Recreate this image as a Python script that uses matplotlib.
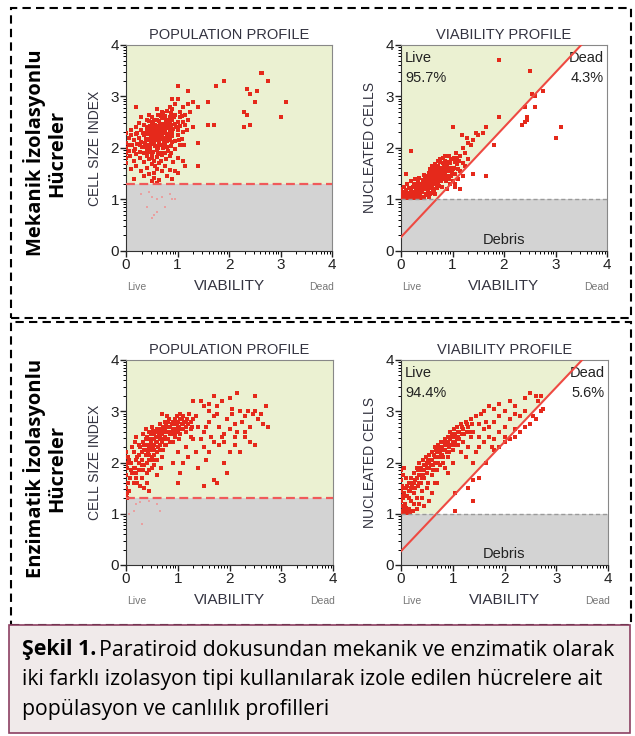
import numpy as np
import matplotlib.pyplot as plt
from matplotlib.patches import Rectangle, Polygon

plt.rcParams['font.family'] = ['Liberation Sans', 'DejaVu Sans']

# ---- veriler (grafikten okunan noktalar) ----
mek_pop_pts = [
    (0.85,2.8),(0.9,2.75),(0.95,2.85),(1.05,2.7),(0.8,2.72),(1.1,2.8),(0.7,2.7),(1.2,2.85),(1.15,2.65),(0.6,2.75),(1.0,2.95),(0.9,2.95),
    (0.5,2.6),(0.55,2.55),(0.62,2.65),(0.7,2.58),(0.75,2.62),(0.8,2.5),(0.85,2.6),(0.9,2.55),(0.95,2.65),(1.0,2.5),(1.05,2.6),(1.1,2.5),
    (0.4,2.55),(0.65,2.52),(0.72,2.68),(0.88,2.68),(1.2,2.55),(1.25,2.7),(0.3,2.6),(0.45,2.65),
    (0.2,2.4),(0.3,2.35),(0.35,2.45),(0.4,2.4),(0.45,2.35),(0.5,2.45),(0.55,2.38),(0.58,2.32),(0.6,2.42),(0.63,2.36),(0.66,2.47),(0.7,2.35),
    (0.72,2.42),(0.75,2.3),(0.78,2.45),(0.8,2.38),(0.85,2.32),(0.88,2.44),(0.92,2.36),(0.96,2.46),(1.0,2.35),(1.05,2.42),(1.1,2.32),(0.1,2.35),
    (0.25,2.48),(0.52,2.31),(0.68,2.31),(0.82,2.48),(1.15,2.45),(1.3,2.4),
    (0.05,2.2),(0.1,2.25),(0.15,2.15),(0.2,2.28),(0.25,2.2),(0.3,2.12),(0.35,2.25),(0.38,2.18),(0.42,2.28),(0.45,2.15),(0.48,2.22),(0.5,2.29),
    (0.53,2.12),(0.55,2.2),(0.58,2.26),(0.6,2.15),(0.62,2.22),(0.65,2.29),(0.68,2.18),(0.7,2.24),(0.74,2.12),(0.77,2.2),(0.8,2.27),(0.85,2.16),
    (0.9,2.23),(0.95,2.14),(1.0,2.25),(1.08,2.18),(0.33,2.29),(0.57,2.17),
    (0.0,2.0),(0.05,1.95),(0.12,2.05),(0.18,1.98),(0.22,2.08),(0.28,1.92),(0.32,2.02),(0.36,2.1),(0.4,1.95),(0.44,2.05),(0.47,2.0),(0.5,2.08),
    (0.52,1.93),(0.56,2.03),(0.6,1.97),(0.64,2.06),(0.68,1.91),(0.72,2.0),(0.76,2.08),(0.82,1.95),(0.88,2.04),(0.95,1.98),(1.05,2.05),(0.42,1.92),(0.48,2.09),
    (0.0,1.8),(0.08,1.85),(0.15,1.75),(0.2,1.88),(0.28,1.8),(0.35,1.72),(0.4,1.85),(0.45,1.78),(0.5,1.88),(0.55,1.75),(0.6,1.82),(0.65,1.7),
    (0.7,1.86),(0.78,1.78),(0.85,1.84),(0.92,1.72),(1.0,1.8),(1.1,1.75),
    (0.1,1.6),(0.2,1.65),(0.3,1.55),(0.4,1.62),(0.5,1.68),(0.55,1.52),(0.6,1.6),(0.7,1.55),(0.75,1.65),(0.85,1.58),(0.95,1.55),(1.0,1.52),(1.15,1.65),(0.45,1.5),
    (0.35,1.45),(0.5,1.35),(0.55,1.42),(0.65,1.38),(0.8,1.45),(0.9,1.4),(0.15,1.4),(0.6,1.32),(0.0,2.1),(0.0,1.9),(0.0,2.3),(0.0,1.7),
    (0.41,2.33),(0.46,2.42),(0.51,2.37),(0.56,2.44),(0.61,2.33),(0.66,2.4),(0.71,2.46),(0.76,2.37),(0.81,2.43),(0.86,2.38),(0.43,2.18),(0.49,2.13),
    (0.54,2.26),(0.59,2.21),(0.64,2.14),(0.69,2.27),(0.73,2.19),(0.79,2.13),(0.84,2.24),(0.89,2.3),(0.44,2.52),(0.53,2.5),(0.6,2.55),(0.68,2.62),
    (0.77,2.55),(0.86,2.52),(0.93,2.6),(0.98,2.4),(0.38,2.02),(0.46,1.97),(0.55,2.09),(0.63,2.0),(0.71,2.06),(0.8,2.02),(0.9,2.12),(0.34,1.9),
    (0.5,1.8),(0.62,1.88),(0.75,1.9),(0.27,2.05),(0.22,2.3),(0.15,1.95),(0.06,2.05),(0.57,1.65),(0.68,1.75),(0.88,1.9),(1.02,2.15),(1.12,2.05),
    (1.18,2.35),(1.08,2.62),
    (0.2,2.8),(1.0,3.2),(1.2,3.1),(1.3,2.9),(1.4,2.8),(1.6,2.9),(1.75,3.2),(1.9,3.3),(1.7,2.45),(1.6,2.45),(2.35,3.15),(2.4,3.05),
    (2.55,3.1),(2.62,3.45),(2.65,3.45),(2.75,3.3),(2.3,2.7),(2.35,2.65),(2.4,2.45),(2.3,2.4),(2.5,2.9),(3.0,2.6),(3.1,2.9),(1.4,2.1),(1.4,1.65),
]
mek_pop_debris = [(0.3,1.1),(0.45,1.15),(0.5,1.05),(0.6,1.0),(0.7,1.05),(0.85,1.1),(0.95,1.0),(0.4,0.85),(0.5,0.65),(0.6,0.75),(0.75,0.85),(0.9,1.0),(0.55,0.7)]

mek_via_pts = [
    (0.0,1.02),(0.02,1.08),(0.05,1.05),(0.03,1.15),(0.08,1.1),(0.1,1.02),(0.0,1.2),(0.06,1.25),(0.1,1.18),(0.12,1.3),
    (0.15,1.05),(0.18,1.12),(0.2,1.2),(0.22,1.08),(0.25,1.15),(0.28,1.25),(0.3,1.05),(0.2,1.35),(0.25,1.3),(0.3,1.18),(0.16,1.22),(0.27,1.4),
    (0.32,1.1),(0.35,1.22),(0.38,1.3),(0.4,1.15),(0.42,1.38),(0.45,1.25),(0.48,1.1),(0.5,1.32),(0.35,1.42),(0.4,1.05),(0.44,1.48),(0.47,1.2),(0.33,1.35),(0.49,1.42),
    (0.52,1.15),(0.54,1.28),(0.56,1.4),(0.58,1.22),(0.6,1.5),(0.62,1.35),(0.64,1.18),(0.66,1.45),(0.68,1.3),(0.7,1.58),(0.55,1.52),(0.6,1.25),
    (0.65,1.6),(0.53,1.38),(0.57,1.1),(0.63,1.43),(0.69,1.22),(0.61,1.65),(0.67,1.52),(0.51,1.45),
    (0.72,1.3),(0.74,1.45),(0.76,1.6),(0.78,1.35),(0.8,1.5),(0.82,1.7),(0.84,1.4),(0.86,1.55),(0.88,1.65),(0.9,1.45),(0.75,1.72),(0.79,1.25),
    (0.83,1.58),(0.87,1.35),(0.73,1.52),(0.81,1.8),(0.77,1.42),(0.85,1.75),(0.89,1.58),(0.71,1.65),
    (0.92,1.55),(0.95,1.7),(0.98,1.45),(1.0,1.6),(1.02,1.8),(1.05,1.5),(1.08,1.68),(0.94,1.85),(1.0,1.35),(1.1,1.6),(0.96,1.62),(1.04,1.72),(0.93,1.4),(1.06,1.9),
    (1.12,1.75),(1.15,1.85),(1.2,2.0),(1.25,1.9),(1.3,2.1),(1.35,2.05),(1.2,1.7),(1.28,2.2),(1.4,2.15),(1.45,2.3),(1.15,1.55),(1.5,2.25),(1.6,2.3),
    (1.05,1.3),(1.1,1.4),(1.2,1.45),(1.3,1.78),(1.0,2.4),(1.18,2.25),
    (0.45,1.33),(0.5,1.22),(0.55,1.33),(0.6,1.42),(0.65,1.3),(0.7,1.44),(0.75,1.35),(0.8,1.62),(0.85,1.48),(0.9,1.68),(0.58,1.47),(0.63,1.55),
    (0.68,1.62),(0.73,1.4),(0.78,1.55),(0.83,1.5),(0.88,1.42),(0.93,1.6),(0.97,1.78),(0.52,1.25),(0.62,1.2),(0.72,1.48),(0.82,1.43),(0.92,1.72),
    (0.42,1.2),(0.37,1.15),(0.3,1.3),(0.23,1.25),(0.13,1.12),(0.07,1.02),(0.04,1.12),(0.19,1.05),(0.27,1.1),(0.36,1.28),(0.46,1.4),(0.56,1.6),
    (0.66,1.68),(0.76,1.78),(0.86,1.85),(0.99,1.52),(1.03,1.62),(1.08,1.8),(0.74,1.27),(0.79,1.62),(0.84,1.65),(0.69,1.38),(0.59,1.32),(0.49,1.27),
    (0.39,1.22),(0.71,1.75),
    (0.01,1.05),(0.04,1.02),(0.09,1.06),(0.14,1.03),(0.2,1.04),(0.26,1.02),(0.33,1.04),(0.38,1.03),(0.44,1.05),(0.5,1.08),(0.55,1.04),(0.12,1.08),
    (0.24,1.07),(0.36,1.08),(0.6,1.12),(0.66,1.1),
    (0.9,1.2),(0.95,1.3),(1.05,1.25),(1.15,1.2),(1.4,1.5),(1.65,1.45),(1.25,1.65),(1.8,2.05),(1.9,2.6),(0.2,1.95),(0.1,1.5),
    (1.9,3.7),(2.5,3.5),(2.4,2.8),(2.45,2.55),(2.4,2.5),(2.35,2.45),(2.45,2.6),(2.6,3.0),(2.75,3.1),(2.6,2.8),(3.0,2.2),(3.1,2.4),(2.55,3.05),(1.65,2.4),
]

enz_pop_pts = [
    (0.0,1.35),(0.02,1.4),(0.0,1.5),(0.03,1.6),(0.0,1.75),(0.02,1.9),(0.0,2.0),(0.04,2.1),(0.0,2.2),(0.02,1.3),(0.05,1.45),(0.03,2.0),(0.0,1.95),(0.06,2.05),
    (0.1,2.0),(0.12,1.8),(0.15,2.2),(0.18,1.9),(0.2,2.5),(0.22,2.1),(0.25,1.85),(0.28,2.3),(0.3,1.7),(0.3,2.05),(0.33,2.4),(0.35,1.95),(0.35,2.25),
    (0.38,2.15),(0.4,2.5),(0.4,1.8),(0.42,2.35),(0.45,2.05),(0.45,2.6),(0.48,2.25),(0.5,2.45),(0.5,1.9),(0.52,2.3),(0.55,2.55),(0.55,2.15),(0.58,2.4),
    (0.6,2.65),(0.6,2.2),(0.62,2.5),(0.65,2.35),(0.65,2.75),(0.68,2.55),(0.7,2.4),(0.7,2.1),(0.72,2.62),(0.75,2.5),(0.75,2.8),(0.78,2.35),(0.8,2.6),
    (0.8,2.9),(0.82,2.45),(0.85,2.7),(0.88,2.55),(0.9,2.8),(0.9,2.4),(0.92,2.65),(0.95,2.75),(0.95,2.5),(0.98,2.9),(1.0,2.6),(1.0,2.8),(1.03,2.7),
    (1.05,2.55),(1.05,2.85),(1.08,2.75),(1.1,2.65),(1.1,2.9),(1.12,2.8),(1.15,2.7),(1.18,2.85),(1.2,2.75),(1.22,2.95),(1.25,2.8),(1.28,2.7),(1.3,2.85),
    (1.35,2.9),(0.25,2.35),(0.38,2.65),(0.15,1.6),(0.2,1.7),(0.28,1.55),(0.4,1.6),(0.45,1.45),(0.55,1.95),(0.6,1.75),(0.68,1.9),(0.5,2.7),(0.32,2.55),
    (0.42,2.2),(0.52,2.05),(0.62,2.3),(0.72,2.25),(0.58,2.6),(0.48,2.4),(0.66,2.45),(0.76,2.65),(0.86,2.6),(0.96,2.65),(0.84,2.85),(0.7,2.95),(0.12,2.3),
    (0.08,1.7),(0.22,1.6),(0.35,1.5),(0.18,2.4),(0.26,2.0),(0.44,1.85),(0.54,2.35),(0.64,2.58),(0.74,2.45),(0.94,2.55),(1.02,2.45),
    (0.45,2.3),(0.5,2.35),(0.55,2.45),(0.6,2.4),(0.65,2.5),(0.7,2.55),(0.75,2.6),(0.8,2.7),(0.85,2.55),(0.9,2.65),(0.95,2.6),(1.0,2.7),(1.05,2.65),
    (1.1,2.75),(1.15,2.8),(0.4,2.25),(0.35,2.35),(0.3,2.2),(0.25,2.15),(0.2,2.05),(0.15,1.9),(0.1,1.85),(0.55,2.25),(0.65,2.25),(0.75,2.35),(0.85,2.4),
    (0.95,2.85),(1.05,2.95),(1.15,2.6),(1.25,2.65),(0.38,2.45),(0.48,2.55),(0.58,2.5),(0.68,2.65),(0.78,2.75),(0.88,2.75),(0.98,2.78),(1.08,2.85),
    (0.3,1.95),(0.4,2.0),(0.5,2.1),(0.6,2.05),(0.2,1.8),(0.32,1.85),(0.45,2.15),(0.72,2.7),(0.82,2.8),(0.62,2.6),(0.52,2.62),(0.42,2.45),
    (1.3,3.2),(1.45,3.2),(1.5,3.1),(1.6,3.15),(1.7,3.3),(1.75,3.1),(1.85,3.2),(2.0,3.25),(2.15,3.35),(2.5,3.3),(2.7,3.1),(1.4,2.7),(1.5,2.6),
    (1.6,2.8),(1.65,2.5),(1.7,2.9),(1.8,2.7),(1.9,2.55),(1.95,2.85),(2.0,2.65),(2.05,2.95),(2.1,2.75),(2.2,3.0),(2.25,2.8),(2.3,2.9),(2.35,3.0),
    (2.4,2.7),(2.45,2.95),(2.5,3.0),(2.55,2.85),(2.6,2.95),(2.65,2.75),(2.75,2.7),(2.3,2.5),(2.4,2.4),(2.5,2.35),(2.2,2.2),(2.1,2.35),(2.0,2.2),
    (1.9,2.0),(1.95,1.8),(1.75,1.6),(1.7,1.65),(1.5,1.55),(1.4,1.9),(1.5,2.3),(1.55,2.05),(1.6,2.2),(1.8,2.35),(1.85,2.5),(1.3,2.45),(1.35,2.2),
    (1.2,2.1),(1.25,2.5),(1.45,2.45),(1.7,2.4),(1.9,2.4),(2.1,2.5),(2.3,2.6),(1.0,1.6),(1.1,2.0),(1.15,2.3),(1.0,2.2),(0.9,2.0),(1.05,1.8),
    (1.6,3.0),(1.75,2.95),(2.05,3.05),(2.15,2.6),(1.55,2.7),
]
enz_pop_debris = [(0.05,1.0),(0.2,1.2),(0.28,1.22),(0.3,0.8),(0.65,1.05),(0.6,1.2),(0.45,1.25),(0.15,1.05)]

enz_via_pts = [
    (0.0,1.05),(0.02,1.15),(0.0,1.25),(0.03,1.35),(0.0,1.45),(0.02,1.55),(0.0,1.65),(0.04,1.75),(0.0,1.85),(0.05,1.1),(0.03,1.3),(0.01,1.5),(0.06,1.4),
    (0.08,1.2),(0.1,1.5),(0.12,1.35),(0.15,1.6),(0.15,1.1),(0.18,1.45),(0.2,1.7),(0.2,1.25),(0.22,1.55),(0.25,1.8),(0.25,1.4),(0.28,1.65),(0.3,1.9),
    (0.3,1.3),(0.32,1.55),(0.35,1.75),(0.35,2.0),(0.38,1.6),(0.4,1.85),(0.4,1.45),(0.42,2.05),(0.45,1.7),(0.45,1.95),(0.48,2.1),(0.5,1.8),(0.5,2.0),
    (0.52,1.6),(0.55,2.15),(0.55,1.9),(0.58,2.05),(0.6,1.75),(0.6,2.2),(0.62,1.95),(0.65,2.1),(0.65,2.3),(0.68,2.0),(0.7,2.2),(0.7,1.85),(0.72,2.35),
    (0.75,2.1),(0.75,2.25),(0.78,2.4),(0.8,2.15),(0.8,2.3),(0.82,2.0),(0.85,2.45),(0.85,2.25),(0.88,2.35),(0.9,2.5),(0.9,2.1),(0.92,2.3),(0.95,2.45),
    (0.95,2.6),(0.98,2.35),(1.0,2.5),(1.0,2.25),(1.02,2.65),(1.05,2.4),(1.05,2.55),(1.08,2.7),(1.1,2.5),(1.1,2.35),(1.12,2.6),(1.15,2.75),(1.18,2.55),
    (1.2,2.65),(1.2,2.4),(1.25,2.8),(1.28,2.6),(1.3,2.7),(1.35,2.85),(1.4,2.6),(1.45,2.9),(1.5,2.75),(1.55,2.95),(1.6,3.0),(1.65,2.8),(1.7,3.1),
    (1.8,3.05),(1.9,3.15),(2.0,3.0),(2.1,3.2),(2.2,3.1),(2.4,3.25),(2.5,3.35),(2.6,3.3),(2.7,3.3),(1.5,2.5),(1.6,2.65),(1.7,2.7),(1.8,2.8),(1.9,2.9),
    (2.0,2.7),(2.1,2.85),(2.2,2.95),(2.3,2.9),(2.4,3.0),(1.45,2.2),(1.5,2.3),(1.6,2.4),(1.7,2.5),(1.75,2.3),(1.8,2.45),(1.9,2.6),(2.0,2.5),(1.3,2.3),
    (1.35,2.5),(1.4,2.0),(1.25,2.1),(0.9,1.8),(0.7,1.6),(0.5,1.5),(0.4,1.3),(0.6,1.4),(0.55,1.25),(0.3,1.1),(0.2,1.05),(0.45,1.15),(0.75,1.95),
    (0.65,1.6),(1.0,2.0),(1.15,2.2),(0.85,1.9),(0.35,1.2),(0.25,1.2),(0.15,1.3),(0.1,1.7),(0.05,1.9),
    (0.45,1.85),(0.5,1.9),(0.55,2.0),(0.6,2.05),(0.65,2.0),(0.7,2.1),(0.75,2.2),(0.8,2.25),(0.85,2.35),(0.9,2.4),(0.95,2.35),(1.0,2.4),(1.05,2.5),
    (1.1,2.6),(0.48,1.95),(0.53,2.05),(0.58,1.95),(0.63,2.15),(0.68,2.25),(0.73,2.3),(0.78,2.15),(0.83,2.4),(0.88,2.2),(0.93,2.5),(0.98,2.55),
    (1.03,2.35),(1.08,2.45),(0.4,1.7),(0.35,1.6),(0.3,1.7),(0.25,1.6),(0.2,1.5),(0.15,1.45),(0.1,1.35),(0.38,1.9),(0.43,1.75),(0.33,1.85),(0.28,1.5),
    (0.18,1.6),(0.12,1.55),(0.62,1.85),(0.72,2.0),(0.82,2.1),(0.92,2.2),(1.12,2.45),(1.18,2.7),(1.22,2.55),(1.28,2.75),(1.32,2.6),(1.38,2.75),
    (0.02,1.02),(0.07,1.04),(0.11,1.02),(0.17,1.03),(0.24,1.05),(0.09,1.12),
    (1.05,1.4),(1.3,1.5),(1.4,1.65),(1.65,2.0),(1.8,2.25),(1.9,2.3),(2.0,2.4),(2.1,2.45),(2.2,2.5),(2.3,2.6),(2.4,2.7),(2.5,2.75),(2.6,2.85),
    (2.7,3.0),(2.75,3.05),(2.55,2.9),(1.4,1.25),(1.05,1.05),(1.5,1.7),(2.2,2.65),(2.65,3.2),
]

satirlar = ["Mekanik İzolasyonlu\nHücreler", "Enzimatik İzolasyonlu\nHücreler"]
canli_yuzde = ["95.7%", "94.4%"]
olu_yuzde = ["4.3%", "5.6%"]
pop_esik = 1.3
debris_esik = 1.0
ayirici = (0.27, 1.066)  # kesim noktasi, egim

YESIL = "#ebf1d2"
GRI = "#d3d3d3"
KIRMIZI = "#e5291b"
YAZI = "#333340"

fig = plt.figure(figsize=(6.35, 7.36), dpi=100)
W, H = 635, 736


def eksen(x0, y0, x1, y1):
    return fig.add_axes([x0 / W, 1 - y1 / H, (x1 - x0) / W, (y1 - y0) / H])


def ortak(ax, ylab):
    ax.set_xlim(0, 4)
    ax.set_ylim(0, 4)
    ax.set_xticks(range(5))
    ax.set_yticks(range(5))
    # her birim bir dekad gibi: ara cizgiler log10(2..9)
    minor = [i + np.log10(k) for i in range(4) for k in range(2, 10)]
    ax.set_xticks(minor, minor=True)
    ax.set_yticks(minor, minor=True)
    ax.tick_params(which="major", length=4, width=1, labelsize=11, pad=1, colors="#222222")
    ax.tick_params(which="minor", length=2.5, width=0.7)
    for s in ["top", "right"]:
        ax.spines[s].set_color("#888888")
        ax.spines[s].set_linewidth(0.8)
    for s in ["left", "bottom"]:
        ax.spines[s].set_color("#333333")
    ax.set_xlabel("VIABILITY", fontsize=11, color=YAZI, labelpad=5)
    ax.set_ylabel(ylab, fontsize=10, color=YAZI, labelpad=6)
    ax.text(0.05, -0.175, "Live", transform=ax.transAxes, fontsize=7.5, color="#777777", ha="center", va="center")
    ax.text(0.95, -0.175, "Dead", transform=ax.transAxes, fontsize=7.5, color="#777777", ha="center", va="center")


def pop_panel(ax, pts, debris):
    ax.axhspan(pop_esik, 4, color=YESIL, lw=0, zorder=0)
    ax.axhspan(0, pop_esik, color=GRI, lw=0, zorder=0)
    p = np.array(pts)
    d = np.array(debris)
    ax.scatter(d[:, 0], d[:, 1], s=4, marker="s", color="#e9a0a0", lw=0, zorder=2)
    ax.scatter(p[:, 0], p[:, 1], s=6, marker="s", color=KIRMIZI, lw=0, zorder=3)
    ax.axhline(pop_esik, color="#f05a5a", lw=1.6, ls=(0, (4, 2)), zorder=4)
    ax.set_title("POPULATION PROFILE", fontsize=10.5, color=YAZI, pad=4)
    ortak(ax, "CELL SIZE INDEX")


def via_panel(ax, pts, live, dead):
    b, m = ayirici
    x_ust = (4 - b) / m
    x_esik = (debris_esik - b) / m
    ax.add_patch(Polygon([(0, debris_esik), (x_esik, debris_esik), (x_ust, 4), (0, 4)],
                         closed=True, color=YESIL, lw=0, zorder=0))
    ax.axhspan(0, debris_esik, color=GRI, lw=0, zorder=0)
    p = np.array(pts)
    ax.scatter(p[:, 0], p[:, 1], s=6, marker="s", color=KIRMIZI, lw=0, zorder=3)
    xs = np.array([0, x_ust])
    ax.plot(xs, b + m * xs, color="#ee4a42", lw=1.5, zorder=4)
    ax.axhline(debris_esik, color="#9a9a9a", lw=1, ls=(0, (3, 2)), zorder=4)
    ax.text(0.08, 3.88, "Live\n" + live, fontsize=10.5, color="#222222", va="top", ha="left", linespacing=1.5)
    ax.text(3.93, 3.88, "Dead\n" + dead, fontsize=10.5, color="#222222", va="top", ha="right", linespacing=1.5)
    ax.text(2, 0.22, "Debris", fontsize=10.5, color="#222222", ha="center", va="center")
    ax.set_title("VIABILITY PROFILE", fontsize=10.5, color=YAZI, pad=4)
    ortak(ax, "NUCLEATED CELLS")


pop_panel(eksen(126, 45, 332, 251), mek_pop_pts, mek_pop_debris)
via_panel(eksen(401, 45, 607, 251), mek_via_pts, canli_yuzde[0], olu_yuzde[0])
pop_panel(eksen(126, 360, 333, 565), enz_pop_pts, enz_pop_debris)
via_panel(eksen(401, 360, 608, 565), enz_via_pts, canli_yuzde[1], olu_yuzde[1])

# kesikli cerceveler
for (y0, y1) in [(8, 318), (322, 625)]:
    fig.add_artist(Rectangle((11 / W, 1 - y1 / H), 620 / W, (y1 - y0) / H, transform=fig.transFigure,
                             fill=False, ec="black", lw=1.5, ls=(0, (4, 2.5))))

for i, yc in enumerate([153, 468]):
    fig.text(45 / W, 1 - yc / H, satirlar[i], rotation=90, ha="center", va="center", family="Open Sans",
             fontweight="bold", fontsize=14.5, linespacing=1.05, multialignment="center")

# alt aciklama kutusu
fig.add_artist(Rectangle((9 / W, 1 - 733 / H), 621 / W, 108 / H, transform=fig.transFigure,
                         fc="#f0eaea", ec="#8c4062", lw=1.2))
cap_font = "Open Sans"
cap_fs = 15.3
t = fig.text(22 / W, 1 - 650 / H, "Şekil 1.", family=cap_font, fontweight="bold", fontsize=cap_fs, va="center", ha="left")
fig.canvas.draw()
bb = t.get_window_extent()
fig.text(bb.x1 / W + 3 / W, 1 - 650 / H, "Paratiroid dokusundan mekanik ve enzimatik olarak",
         family=cap_font, fontsize=cap_fs, va="center", ha="left")
fig.text(22 / W, 1 - 680 / H, "iki farklı izolasyon tipi kullanılarak izole edilen hücrelere ait",
         family=cap_font, fontsize=cap_fs, va="center", ha="left")
fig.text(22 / W, 1 - 710 / H, "popülasyon ve canlılık profilleri",
         family=cap_font, fontsize=cap_fs, va="center", ha="left")

fig.savefig("out.png", dpi=100)
